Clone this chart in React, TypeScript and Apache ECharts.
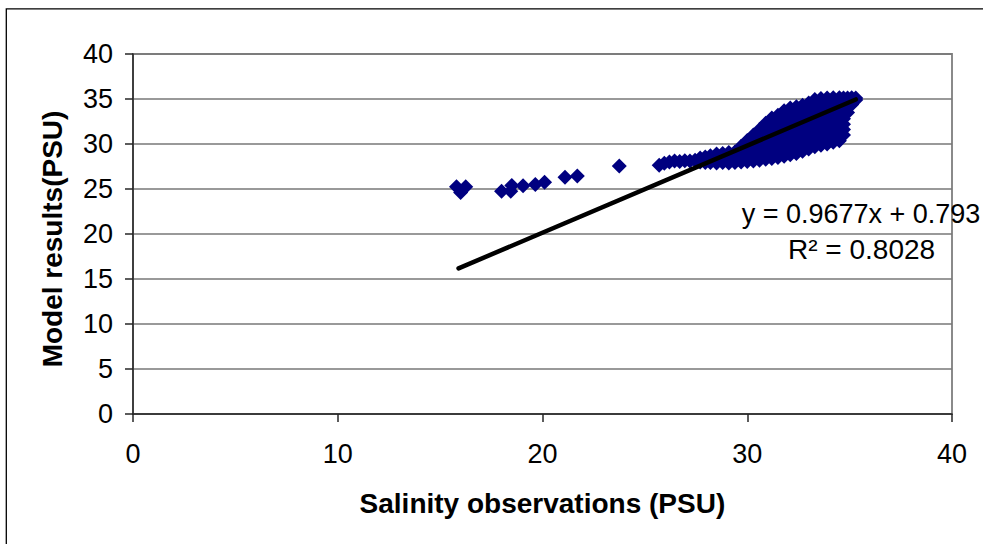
import React, { useEffect, useRef } from "react";
import * as echarts from "echarts";

// Axis ticks
const xTicks = [0, 10, 20, 30, 40];
const yTicks = [0, 5, 10, 15, 20, 25, 30, 35, 40];

// Scattered low-salinity points [observation, model]
const sparsePoints: [number, number][] = [
  [15.8, 25.25], [16.25, 25.25], [16.0, 24.6],
  [18.0, 24.75], [18.45, 24.75], [18.5, 25.4], [19.05, 25.35], [19.65, 25.5], [20.1, 25.75],
  [21.1, 26.3], [21.7, 26.45], [23.75, 27.55],
];

// Dense cluster of points [observation, model]
const densePoints: [number, number][] = [
  [25.7, 27.65], [25.95, 27.85], [26.2, 28.0], [26.45, 28.1], [26.7, 28.05], [26.95, 28.15], [27.2, 28.1], [27.45, 28.2],
  [27.7, 28.0], [27.7, 28.45],
  [27.95, 27.95], [27.95, 28.55],
  [28.2, 27.95], [28.2, 28.7],
  [28.5, 27.9], [28.5, 28.4], [28.5, 28.9],
  [28.8, 27.95], [28.8, 28.5], [28.8, 28.95],
  [29.1, 27.9], [29.1, 28.5], [29.1, 29.05],
  [29.4, 27.95], [29.4, 28.5], [29.4, 29.1],
  [29.7, 28.0], [29.7, 28.6], [29.7, 29.2], [29.7, 29.75],
  [30.0, 28.05], [30.0, 28.65], [30.0, 29.25], [30.0, 29.85], [30.0, 30.4],
  [30.3, 28.1], [30.3, 28.7], [30.3, 29.3], [30.3, 29.9], [30.3, 30.5], [30.3, 31.0],
  [30.6, 28.2], [30.6, 28.8], [30.6, 29.4], [30.6, 30.0], [30.6, 30.6], [30.6, 31.2], [30.6, 31.6],
  [30.9, 28.3], [30.9, 28.9], [30.9, 29.5], [30.9, 30.1], [30.9, 30.7], [30.9, 31.3], [30.9, 31.9], [30.9, 32.3],
  [31.2, 28.4], [31.2, 29.0], [31.2, 29.6], [31.2, 30.2], [31.2, 30.8], [31.2, 31.4], [31.2, 32.0], [31.2, 32.6], [31.2, 32.9],
  [31.5, 28.5], [31.5, 29.1], [31.5, 29.7], [31.5, 30.3], [31.5, 30.9], [31.5, 31.5], [31.5, 32.1], [31.5, 32.7], [31.5, 33.2],
  [31.8, 28.65], [31.8, 29.25], [31.8, 29.85], [31.8, 30.45], [31.8, 31.05], [31.8, 31.65], [31.8, 32.25], [31.8, 32.85], [31.8, 33.45], [31.8, 33.7],
  [32.1, 28.8], [32.1, 29.4], [32.1, 30.0], [32.1, 30.6], [32.1, 31.2], [32.1, 31.8], [32.1, 32.4], [32.1, 33.0], [32.1, 33.6], [32.1, 34.0],
  [32.4, 28.95], [32.4, 29.55], [32.4, 30.15], [32.4, 30.75], [32.4, 31.35], [32.4, 31.95], [32.4, 32.55], [32.4, 33.15], [32.4, 33.75], [32.4, 34.15],
  [32.7, 29.2], [32.7, 29.8], [32.7, 30.4], [32.7, 31.0], [32.7, 31.6], [32.7, 32.2], [32.7, 32.8], [32.7, 33.4], [32.7, 33.95], [32.7, 34.3],
  [33.0, 29.45], [33.0, 30.05], [33.0, 30.65], [33.0, 31.25], [33.0, 31.85], [33.0, 32.45], [33.0, 33.05], [33.0, 33.65], [33.0, 34.2], [33.0, 34.55],
  [33.3, 29.7], [33.3, 30.3], [33.3, 30.9], [33.3, 31.5], [33.3, 32.1], [33.3, 32.7], [33.3, 33.3], [33.3, 33.9], [33.3, 34.5], [33.3, 34.95],
  [33.6, 29.85], [33.6, 30.45], [33.6, 31.05], [33.6, 31.65], [33.6, 32.25], [33.6, 32.85], [33.6, 33.45], [33.6, 34.05], [33.6, 34.6], [33.6, 35.05],
  [33.9, 30.0], [33.9, 30.6], [33.9, 31.2], [33.9, 31.8], [33.9, 32.4], [33.9, 33.0], [33.9, 33.6], [33.9, 34.2], [33.9, 34.7], [33.9, 35.1],
  [34.2, 30.2], [34.2, 30.8], [34.2, 31.4], [34.2, 32.0], [34.2, 32.6], [34.2, 33.2], [34.2, 33.8], [34.2, 34.4], [34.2, 34.85], [34.2, 35.15],
  [34.5, 30.35], [34.5, 30.95], [34.5, 31.55], [34.5, 32.15], [34.5, 32.75], [34.5, 33.35], [34.5, 33.95], [34.5, 34.5], [34.5, 34.9], [34.5, 35.15],
  [34.7, 31.0], [34.7, 31.6], [34.7, 32.2], [34.7, 32.8], [34.7, 33.4], [34.7, 34.0], [34.7, 34.6], [34.7, 35.1],
  [34.9, 33.5], [34.9, 34.1], [34.9, 34.6], [34.9, 35.1],
  [35.1, 34.4], [35.1, 34.85], [35.1, 35.15],
  [35.3, 34.9], [35.3, 35.1],
];

// Linear trend line endpoints (y = 0.9677x + 0.793)
const trendLine: [number, number][] = [
  [15.9, 16.18],
  [35.3, 34.95],
];

const equationText = "y = 0.9677x + 0.793";
const r2Text = "R² = 0.8028";
const xTitle = "Salinity observations (PSU)";
const yTitle = "Model results(PSU)";

const FONT = '"Liberation Sans", Arial, Helvetica, sans-serif';

export default function App() {
  const ref = useRef<HTMLDivElement>(null);

  useEffect(() => {
    if (!ref.current) return;
    const chart = echarts.init(ref.current, undefined, { renderer: "svg" });
    const axisColor = "#262626";
    chart.setOption({
      animation: false,
      backgroundColor: "#ffffff",
      textStyle: { fontFamily: FONT },
      grid: {
        left: 133,
        right: 31,
        top: 54,
        bottom: 130,
        show: true,
        borderColor: "#8a8a8a",
        borderWidth: 2,
        backgroundColor: "transparent",
      },
      xAxis: {
        type: "value",
        min: xTicks[0],
        max: xTicks[xTicks.length - 1],
        interval: xTicks[1] - xTicks[0],
        axisLine: { show: true, onZero: false, lineStyle: { color: axisColor, width: 1.5 } },
        axisTick: { show: true, length: 8, lineStyle: { color: axisColor, width: 1.5 } },
        axisLabel: { fontSize: 27, color: "#000", margin: 26, fontFamily: FONT },
        splitLine: { show: false },
      },
      yAxis: {
        type: "value",
        min: yTicks[0],
        max: yTicks[yTicks.length - 1],
        interval: yTicks[1] - yTicks[0],
        axisLine: { show: true, onZero: false, lineStyle: { color: axisColor, width: 1.5 } },
        axisTick: { show: true, length: 8, lineStyle: { color: axisColor, width: 1.5 } },
        axisLabel: { fontSize: 27, color: "#000", margin: 20, padding: [6, 0, 0, 0], fontFamily: FONT },
        splitLine: { show: true, lineStyle: { color: "#777777", width: 1.5 } },
      },
      series: [
        {
          type: "scatter",
          data: [...sparsePoints, ...densePoints],
          symbol: "diamond",
          symbolSize: 15,
          itemStyle: { color: "#000080", opacity: 1 },
          z: 2,
        },
        {
          type: "line",
          data: trendLine,
          symbol: "none",
          showSymbol: false,
          lineStyle: { color: "#000000", width: 4.5, cap: "round", opacity: 1 },
          z: 3,
        },
      ],
      graphic: [
        {
          type: "rect",
          silent: true,
          shape: { x: 6.3, y: 8.8, width: 1200, height: 800 },
          style: { fill: "none", stroke: "#000", lineWidth: 1.3 },
        },
        {
          type: "text",
          silent: true,
          x: 741.7,
          y: 213.8,
          style: { text: equationText, fontSize: 27, fontFamily: FONT, fill: "#000", align: "left", verticalAlign: "middle" },
        },
        {
          type: "text",
          silent: true,
          x: 788,
          y: 249.4,
          style: { text: r2Text, fontSize: 28, fontFamily: FONT, fill: "#000", align: "left", verticalAlign: "middle" },
        },
        {
          type: "text",
          silent: true,
          x: 542.4,
          y: 503,
          style: { text: xTitle, fontSize: 28, fontWeight: "bold", fontFamily: FONT, fill: "#000", align: "center", verticalAlign: "middle" },
        },
        {
          type: "text",
          silent: true,
          x: 52.3,
          y: 239,
          rotation: Math.PI / 2,
          style: { text: yTitle, fontSize: 28, fontWeight: "bold", fontFamily: FONT, fill: "#000", align: "center", verticalAlign: "middle" },
        },
      ],
    });
    return () => chart.dispose();
  }, []);

  return (
    <div
      ref={ref}
      style={{ position: "absolute", left: 0, top: 0, width: 983, height: 544, background: "#fff" }}
    />
  );
}
